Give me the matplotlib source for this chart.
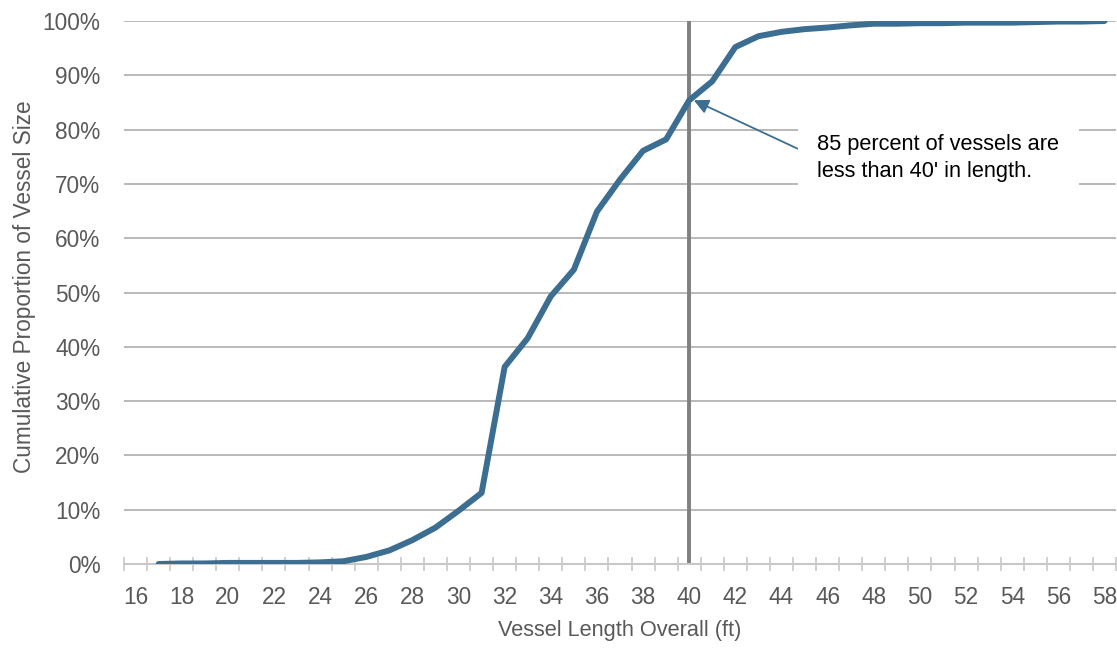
import numpy as np
import matplotlib
matplotlib.use("Agg")
import matplotlib.pyplot as plt
from matplotlib.ticker import FixedLocator, PercentFormatter

plt.rcParams['font.family'] = ['Liberation Sans', 'DejaVu Sans']

# vessel length (ft) and cumulative share (%)
lengths = list(range(17, 59))
cum_pct = [0.0, 0.1, 0.1, 0.2, 0.2, 0.2, 0.2, 0.3, 0.5, 1.3,
           2.5, 4.4, 6.7, 9.8, 13.1, 36.3, 41.6, 49.3, 54.2, 64.9,
           70.8, 76.1, 78.2, 85.4, 88.9, 95.2, 97.2, 98.0, 98.5, 98.8,
           99.2, 99.5, 99.5, 99.6, 99.6, 99.7, 99.7, 99.7, 99.8, 99.9,
           99.9, 100.0]
tick_labels = list(range(16, 59, 2))
cutoff = 40
note = "85 percent of vessels are\nless than 40' in length."

grey = '#595959'
blue = '#3b6e91'

fig = plt.figure(figsize=(11.17, 6.5), dpi=100)
ax = fig.add_axes([124/1117, (650-564)/650, (1116-124)/1117, (564-21)/650])

ax.set_xlim(15.5, 58.5)
ax.set_ylim(0, 100)

ax.yaxis.set_major_locator(FixedLocator(np.arange(0, 101, 10)))
ax.yaxis.set_major_formatter(PercentFormatter(decimals=0))
ax.grid(axis='y', color='#a6a6a6', linewidth=1.1)
ax.set_axisbelow(True)

ax.set_xticks(tick_labels)
ax.set_xticklabels([str(t) for t in tick_labels])
ax.set_xticks(np.arange(15.5, 59, 1), minor=True)
ax.tick_params(axis='x', which='major', length=0, pad=16, labelsize=16.3, labelcolor=grey)
ax.tick_params(axis='x', which='minor', direction='inout', length=10, width=1.2, color='#c8c8c8')
ax.tick_params(axis='y', length=0, pad=17, labelsize=16.3, labelcolor=grey)

for s in ['top', 'right', 'left']:
    ax.spines[s].set_visible(False)
ax.spines['bottom'].set_color('#c8c8c8')
ax.spines['bottom'].set_linewidth(1.5)

ax.axvline(cutoff, color='#808080', linewidth=2.8, zorder=2)
ax.plot(lengths, cum_pct, color=blue, linewidth=4.3, solid_capstyle='round', zorder=3)

ax.annotate(note, xy=(cutoff + 0.2, cum_pct[lengths.index(cutoff)]), xytext=(45.55, 74.8),
            fontsize=15.7, color='black', va='center', ha='left', linespacing=1.35,
            bbox=dict(boxstyle='square,pad=0.9', fc='white', ec='none'),
            arrowprops=dict(arrowstyle='-|>', color=blue, lw=1.3, mutation_scale=22,
                            shrinkA=0, shrinkB=0, relpos=(0, 0.5)),
            zorder=4)

ax.set_xlabel('Vessel Length Overall (ft)', fontsize=15.7, color=grey)
ax.set_ylabel('Cumulative Proportion of Vessel Size', fontsize=16.3, color=grey)
ax.xaxis.set_label_coords(0.5, -0.103)
ax.yaxis.set_label_coords(-0.089, 0.51)

fig.savefig('out.png', dpi=100)
